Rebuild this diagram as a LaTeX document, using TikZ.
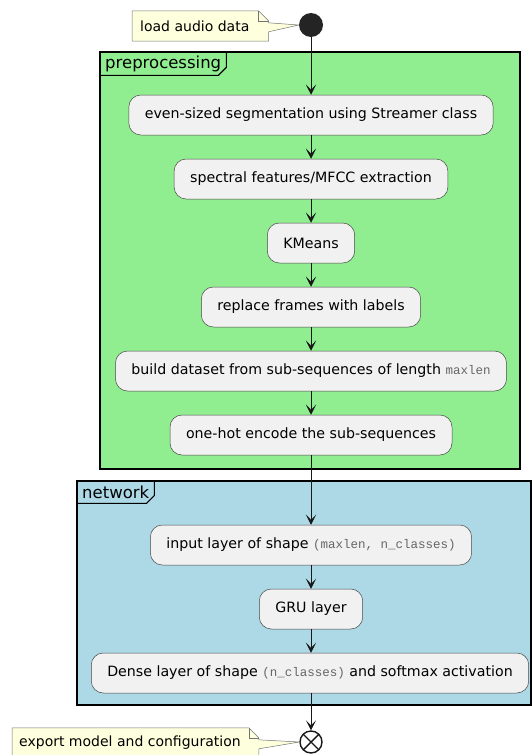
\documentclass[tikz,border=0pt]{standalone}
\usepackage{fontspec}
\setmainfont{DejaVu Sans}
\setmonofont{Liberation Mono}
\usetikzlibrary{arrows.meta}

\definecolor{prefill}{HTML}{90EE90}
\definecolor{netfill}{HTML}{ADD8E6}
\definecolor{actfill}{HTML}{F1F1F1}
\definecolor{actline}{HTML}{181818}
\definecolor{notefill}{HTML}{FEFFDD}
\definecolor{codegray}{HTML}{666666}

\newcommand{\codetxt}[1]{{\ttfamily\fontsize{12.5}{15}\selectfont\color{codegray}#1}}

\tikzset{
  act/.style={draw=actline!80, line width=0.5pt, fill=actfill, rounded corners=12pt,
    minimum height=40pt, inner xsep=16pt, font=\fontsize{14.2}{16}\selectfont},
  flow/.style={-{Stealth[length=10pt,width=10pt,inset=5pt]}, line width=0.9pt, draw=actline},
  framebox/.style={draw=black, line width=1.3pt},
  framelabel/.style={anchor=north west, inner xsep=5pt, inner ysep=0pt, minimum height=23pt,
    font=\fontsize{16.5}{18}\selectfont},
  notetext/.style={anchor=west, inner xsep=8pt, inner ysep=0pt, minimum height=30pt,
    font=\fontsize{14}{16}\selectfont},
  noteline/.style={draw=actline!60, line width=0.5pt},
}

\begin{document}
\begin{tikzpicture}[x=1pt, y=-1pt]
\useasboundingbox (0,0) rectangle (532,755);

% --- frames ---
\draw[framebox, fill=prefill] (100,52) rectangle (520,469);
\node[framelabel] (prelabel) at (100,52) {preprocessing};
\draw[line width=1.1pt] (prelabel.south west) -- ([xshift=-8pt]prelabel.south east)
  -- ([yshift=8pt]prelabel.south east) -- (prelabel.north east);

\draw[framebox, fill=netfill] (77,481) rectangle (531,705);
\node[framelabel, minimum height=22pt] (netlabel) at (77,481) {network};
\draw[line width=1.1pt] (netlabel.south west) -- ([xshift=-8pt]netlabel.south east)
  -- ([yshift=8pt]netlabel.south east) -- (netlabel.north east);

% --- start / stop ---
\node[circle, fill=actline!95, minimum size=24pt, inner sep=0pt] (start) at (311,25) {};
\node[circle, draw=actline, fill=white, line width=1.4pt, minimum size=22pt, inner sep=0pt,
  path picture={\draw[line width=1.4pt, actline]
    ([shift={(-45:11pt)}]path picture bounding box.center) -- ([shift={(135:11pt)}]path picture bounding box.center)
    ([shift={(45:11pt)}]path picture bounding box.center) -- ([shift={(-135:11pt)}]path picture bounding box.center);}]
  (stop) at (311,742) {};

% --- preprocessing steps ---
\node[act] (segment) at (311,115) {even-sized segmentation using Streamer class};
\node[act] (mfcc) at (311,179) {spectral features/MFCC extraction};
\node[act] (kmeans) at (311,243) {KMeans};
\node[act] (relabel) at (311,307) {replace frames with labels};
\node[act] (dataset) at (311,371) {build dataset from sub-sequences of length \codetxt{maxlen}};
\node[act] (onehot) at (311,435) {one-hot encode the sub-sequences};

% --- network steps ---
\node[act] (input) at (311,545) {input layer of shape \codetxt{(maxlen, n\_classes)}};
\node[act] (gru) at (311,609) {GRU layer};
\node[act] (dense) at (310,673) {Dense layer of shape \codetxt{(n\_classes)} and softmax activation};

% --- connectors ---
\draw[flow] (start) -- (segment);
\draw[flow] (segment) -- (mfcc);
\draw[flow] (mfcc) -- (kmeans);
\draw[flow] (kmeans) -- (relabel);
\draw[flow] (relabel) -- (dataset);
\draw[flow] (dataset) -- (onehot);
\draw[flow] (onehot) -- (input);
\draw[flow] (input) -- (gru);
\draw[flow] (gru) -- (dense.north -| gru.south);
\draw[flow] (dense.south -| stop.north) -- (stop);

% --- notes ---
\node[notetext] (loadnote) at (132,26) {load audio data};
\draw[noteline, fill=notefill] (loadnote.south west) -- (loadnote.north west)
  -- ([xshift=1pt]loadnote.north east) -- ([xshift=11pt,yshift=-10pt]loadnote.north east)
  -- ([xshift=11pt,yshift=-12pt]loadnote.north east) -- (start.west)
  -- ([xshift=11pt,yshift=-21pt]loadnote.north east) -- ([xshift=11pt]loadnote.south east) -- cycle;
\draw[noteline] ([xshift=1pt]loadnote.north east) -- ([xshift=1pt,yshift=-10pt]loadnote.north east)
  -- ([xshift=11pt,yshift=-10pt]loadnote.north east);
\node[notetext] at (loadnote.west) {load audio data};

\node[notetext, inner xsep=7pt] (exportnote) at (12,743) {export model and configuration};
\draw[noteline, fill=notefill] (exportnote.south west) -- (exportnote.north west)
  -- ([xshift=1pt]exportnote.north east) -- ([xshift=11pt,yshift=-10pt]exportnote.north east)
  -- ([xshift=11pt,yshift=-12pt]exportnote.north east) -- (stop.west)
  -- ([xshift=11pt,yshift=-21pt]exportnote.north east) -- ([xshift=11pt]exportnote.south east) -- cycle;
\draw[noteline] ([xshift=1pt]exportnote.north east) -- ([xshift=1pt,yshift=-10pt]exportnote.north east)
  -- ([xshift=11pt,yshift=-10pt]exportnote.north east);
\node[notetext, inner xsep=7pt] at (exportnote.west) {export model and configuration};

\end{tikzpicture}
\end{document}
